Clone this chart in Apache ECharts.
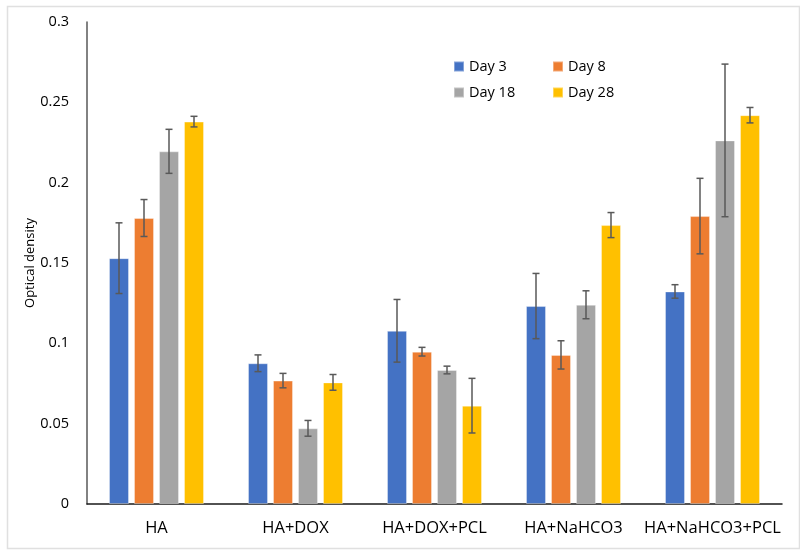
<!DOCTYPE html>
<html>
<head>
<meta charset="utf-8">
<script src="https://cdn.jsdelivr.net/npm/echarts@6/dist/echarts.min.js"></script>
<style>html,body{margin:0;padding:0;background:#fff}#c{width:800px;height:550px}</style>
</head>
<body>
<div id="c"></div>
<script>
const categories = ['HA', 'HA+DOX', 'HA+DOX+PCL', 'HA+NaHCO3', 'HA+NaHCO3+PCL'];
const seriesNames = ['Day 3', 'Day 8', 'Day 18', 'Day 28'];
const day3 = [0.153, 0.0876, 0.1078, 0.1232, 0.1323];
const day8 = [0.178, 0.0768, 0.0948, 0.0928, 0.1792];
const day18 = [0.2195, 0.0471, 0.0834, 0.1240, 0.2263];
const day28 = [0.238, 0.0757, 0.0612, 0.1736, 0.2420];
const err3 = [0.022, 0.0052, 0.0195, 0.0203, 0.0042];
const err8 = [0.0115, 0.0045, 0.0027, 0.0088, 0.0235];
const err18 = [0.0137, 0.0049, 0.0024, 0.0087, 0.0475];
const err28 = [0.0033, 0.0049, 0.017, 0.0078, 0.0048];
const yTicks = [0, 0.05, 0.1, 0.15, 0.2, 0.25, 0.3];

const values = [day3, day8, day18, day28];
const errs = [err3, err8, err18, err28];
const colors = ['#4472C4', '#ED7D31', '#A5A5A5', '#FFC000'];
const BAR_W = 20, BAR_GAP = 5;
const FONT = 'Open Sans';

const series = [];
values.forEach((vals, i) => {
  series.push({
    name: seriesNames[i], type: 'bar', data: vals,
    barWidth: BAR_W, barGap: '25%',
    itemStyle: { color: colors[i], borderColor: 'rgba(255,255,255,0.35)', borderWidth: 1 },
    emphasis: { disabled: true }
  });
});
values.forEach((vals, i) => {
  const offset = (i - 1.5) * (BAR_W + BAR_GAP);
  series.push({
    type: 'custom', name: 'err' + i, silent: true, z: 10,
    data: vals.map((v, k) => [k, v - errs[i][k], v + errs[i][k]]),
    renderItem: function (params, api) {
      const lo = api.coord([api.value(0), api.value(1)]);
      const hi = api.coord([api.value(0), api.value(2)]);
      const x = lo[0] + offset;
      const cap = 3.5;
      const style = { stroke: '#595959', lineWidth: 1.5 };
      return {
        type: 'group', children: [
          { type: 'line', shape: { x1: x, y1: lo[1], x2: x, y2: hi[1] }, style },
          { type: 'line', shape: { x1: x - cap, y1: lo[1], x2: x + cap, y2: lo[1] }, style },
          { type: 'line', shape: { x1: x - cap, y1: hi[1], x2: x + cap, y2: hi[1] }, style }
        ]
      };
    }
  });
});

const chart = echarts.init(document.getElementById('c'));
chart.setOption({
  animation: false,
  backgroundColor: '#fff',
  textStyle: { fontFamily: FONT },
  graphic: [{
    type: 'rect', left: 5, top: 4, silent: true, z: -10,
    shape: { width: 792, height: 542 },
    style: { fill: 'none', stroke: '#e0e0e0', lineWidth: 1.5 }
  }],
  grid: { left: 87, right: 18, top: 22, bottom: 46 },
  legend: [
    { data: ['Day 3', 'Day 18'], orient: 'vertical', left: 448, top: 54, itemWidth: 10, itemHeight: 10, itemGap: 11,
      icon: 'rect', textStyle: { fontSize: 14.5, color: '#000', fontFamily: FONT } },
    { data: ['Day 8', 'Day 28'], orient: 'vertical', left: 547, top: 54, itemWidth: 10, itemHeight: 10, itemGap: 11,
      icon: 'rect', textStyle: { fontSize: 14.5, color: '#000', fontFamily: FONT } }
  ],
  xAxis: {
    type: 'category', data: categories,
    axisLine: { lineStyle: { color: '#1a1a1a', width: 1.5 } },
    axisTick: { show: false },
    axisLabel: { interval: 0, fontSize: 16.5, color: '#000', margin: 16, fontFamily: FONT }
  },
  yAxis: {
    type: 'value', min: yTicks[0], max: yTicks[yTicks.length - 1], interval: 0.05,
    name: 'Optical density', nameLocation: 'middle', nameGap: 50, nameMoveOverlap: false,
    nameTextStyle: { fontSize: 13, color: '#000', fontFamily: FONT },
    axisLine: { show: true, lineStyle: { color: '#595959', width: 1.5 } },
    axisTick: { show: false },
    splitLine: { show: false },
    axisLabel: { fontSize: 14.5, color: '#000', margin: 18, fontFamily: FONT,
      formatter: v => String(parseFloat(v.toFixed(2))) }
  },
  series
});
</script>
</body>
</html>
